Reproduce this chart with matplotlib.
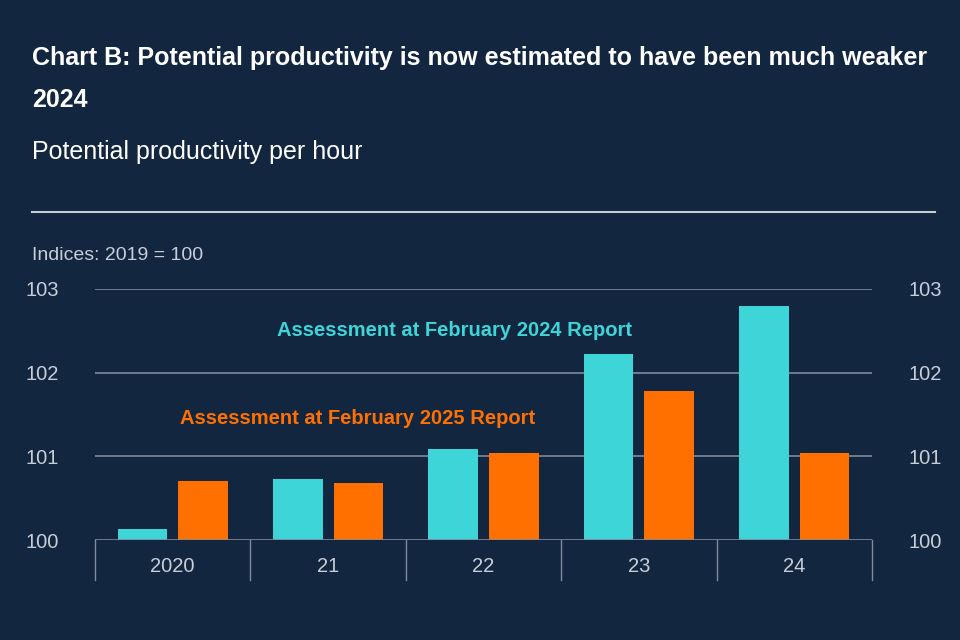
import numpy as np
import matplotlib
matplotlib.use("Agg")
from matplotlib import pyplot as plt
from matplotlib.lines import Line2D

plt.rcParams['font.family'] = ['Liberation Sans Narrow', 'Liberation Sans', 'DejaVu Sans']

years = ['2020', '21', '22', '23', '24']
assess_2024 = [100.13, 100.73, 101.09, 102.22, 102.80]
assess_2025 = [100.70, 100.68, 101.04, 101.78, 101.04]

bg = '#12263F'
teal = '#3DD5D8'
orange = '#FF7000'
grid_c = '#7F8A9A'
txt_c = '#C9CED6'

fig = plt.figure(figsize=(9.6, 6.4), dpi=100, facecolor=bg)
ax = fig.add_axes([95/960, 1-540/640, (872-95)/960, (540-289)/640], facecolor=bg)

x = np.arange(len(years))
w = 0.32
ax.bar(x - 0.195, np.array(assess_2024) - 100, w, bottom=100, color=teal, zorder=3)
ax.bar(x + 0.195, np.array(assess_2025) - 100, w, bottom=100, color=orange, zorder=3)

ax.set_xlim(-0.5, len(years) - 0.5)
ax.set_ylim(100, 103)
ax.set_yticks([100, 101, 102, 103])
for y in [101, 102, 103]:
    ax.axhline(y, color=grid_c, lw=1.2, zorder=1)
ax.axhline(100, color=grid_c, lw=1.2, zorder=4)
for s in ax.spines.values():
    s.set_visible(False)
ax.tick_params(axis='y', length=0, labelsize=14.5, colors=txt_c, pad=26,
               labelright=True, right=False)
ax.set_xticks(x)
ax.set_xticklabels(years)
ax.tick_params(axis='x', length=0, labelsize=14.5, colors=txt_c, pad=12)
for b in np.arange(-0.5, len(years), 1.0):
    ax.add_line(Line2D([b, b], [0, -0.16], transform=ax.get_xaxis_transform(),
                       color=grid_c, lw=1, clip_on=False))

ax.text(0.67, 102.5, 'Assessment at February 2024 Report', color=teal,
        fontsize=14.5, fontweight='bold', va='center')
ax.text(0.05, 101.45, 'Assessment at February 2025 Report', color=orange,
        fontsize=14.5, fontweight='bold', va='center')

fig.text(32/960, 1-58/640, 'Chart B: Potential productivity is now estimated to have been much weaker',
         color='white', fontsize=18, fontweight='bold', va='center')
fig.text(32/960, 1-100/640, '2024', color='white', fontsize=18, fontweight='bold', va='center')
fig.text(32/960, 1-152/640, 'Potential productivity per hour', color='white', fontsize=18, va='center')
fig.add_artist(Line2D([32/960, 935/960], [1-212/640, 1-212/640], color='#C9CED6', lw=1.5))
fig.text(32/960, 1-255/640, 'Indices: 2019 = 100', color=txt_c, fontsize=14, va='center')

fig.savefig('out.png', facecolor=bg)
